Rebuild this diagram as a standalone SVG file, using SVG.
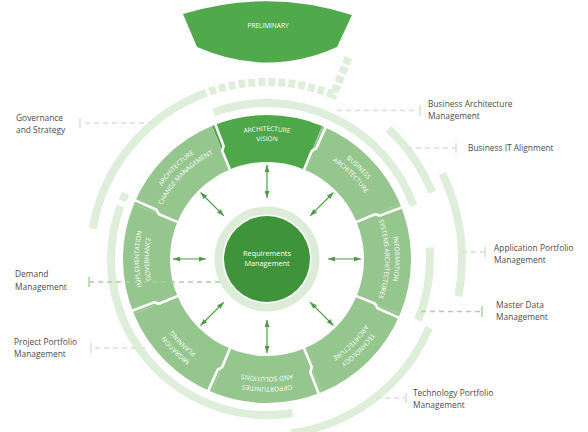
<svg xmlns="http://www.w3.org/2000/svg" width="588" height="432" viewBox="0 0 588 432">
<style>
.band{fill:none;stroke:#deeeda;stroke-width:8}
.sq{fill:none;stroke:#deeeda;stroke-width:8;stroke-dasharray:7 3}
.segL{fill:#95c68e}
.segD{fill:#4ea749}
.st{font-family:"Open Sans","Noto Sans",sans-serif;font-size:6.5px;fill:#fff;text-anchor:middle}
.lbl{font-family:"Open Sans","Noto Sans",sans-serif;font-size:8.4px;fill:#4d4d4d}
.lead{fill:none;stroke:#d3e7cf;stroke-width:1.3;stroke-dasharray:5 4}
.leadG{fill:none;stroke:#a8d2a1;stroke-width:1.3;stroke-dasharray:5 4}
.tick{stroke:#d3e7cf;stroke-width:1.5}
.tickG{stroke:#a8d2a1;stroke-width:1.5}
.sep{fill:none;stroke:#fff;stroke-width:2.6;stroke-linejoin:round}
.arr{stroke:#4c9e46;stroke-width:1.2;marker-start:url(#ah);marker-end:url(#ah)}
</style>
<defs>
<marker id="ah" viewBox="0 0 7 5" refX="7" refY="2.5" markerWidth="7" markerHeight="5" markerUnits="userSpaceOnUse" orient="auto-start-reverse">
<path d="M0,0 L7,2.5 L0,5 z" fill="#4c9e46"/>
</marker>
<path id="p1a" d="M219.05,140.32 A128,128 0 0 1 314.95,140.32"/>
<path id="p1b" d="M222.80,149.59 A118,118 0 0 1 311.20,149.59"/>
<path id="p2a" d="M317.01,141.18 A128,128 0 0 1 384.82,208.99"/>
<path id="p2b" d="M313.11,150.38 A118,118 0 0 1 375.62,212.89"/>
<path id="p3a" d="M385.68,211.05 A128,128 0 0 1 385.68,306.95"/>
<path id="p3b" d="M376.41,214.80 A118,118 0 0 1 376.41,303.20"/>
<path id="p4a" d="M384.82,309.01 A128,128 0 0 1 317.01,376.82"/>
<path id="p4b" d="M375.62,305.11 A118,118 0 0 1 313.11,367.62"/>
<path id="p5a" d="M314.95,377.68 A128,128 0 0 1 219.05,377.68"/>
<path id="p5b" d="M311.20,368.41 A118,118 0 0 1 222.80,368.41"/>
<path id="p6a" d="M216.99,376.82 A128,128 0 0 1 149.18,309.01"/>
<path id="p6b" d="M220.89,367.62 A118,118 0 0 1 158.38,305.11"/>
<path id="p7a" d="M148.32,306.95 A128,128 0 0 1 148.32,211.05"/>
<path id="p7b" d="M157.59,303.20 A118,118 0 0 1 157.59,214.80"/>
<path id="p8a" d="M149.18,208.99 A128,128 0 0 1 216.99,141.18"/>
<path id="p8b" d="M158.38,212.89 A118,118 0 0 1 220.89,150.38"/>
</defs>
<rect width="588" height="432" fill="#fff"/>

<g id="governance-strategy">
<path class="band" d="M92.69,228.26 A177,177 0 0 1 206.46,92.67"/>
<path class="sq" d="M209.37,91.64 A177,177 0 0 1 333.31,94.89 L348.66,56.87"/>
<text class="lbl" x="16" y="120.5">Governance</text>
<text class="lbl" x="16" y="132.5">and Strategy</text>
</g>
<g id="business-architecture-management">
<path class="band" d="M213.64,112.41 A156,156 0 0 1 413.59,205.64"/>
<text class="lbl" x="428" y="106.5">Business Architecture</text>
<text class="lbl" x="428" y="118.5">Management</text>
</g>
<g id="business-it-alignment">
<path class="band" d="M388.40,128.82 A178,178 0 0 1 432.04,192.32"/>
<text class="lbl" x="468" y="151">Business IT Alignment</text>
</g>
<g id="application-portfolio-management">
<path class="band" d="M442.26,173.52 A195,195 0 0 1 458.42,296.21"/>
<text class="lbl" x="494" y="250.5">Application Portfolio</text>
<text class="lbl" x="494" y="262.5">Management</text>
</g>
<g id="master-data-management">
<path class="band" d="M429.60,247.63 A163,163 0 0 1 418.13,320.06"/>
<text class="lbl" x="496" y="308">Master Data</text>
<text class="lbl" x="496" y="320">Management</text>
</g>
<g id="technology-portfolio-management">
<path class="band" d="M429.01,327.77 A176,176 0 0 1 291.49,433.29"/>
<text class="lbl" x="413" y="396">Technology Portfolio</text>
<text class="lbl" x="413" y="408">Management</text>
</g>
<g id="project-portfolio-management">
<path class="band" d="M292.50,413.00 A156,156 0 0 1 120.40,206.00"/>
<path class="band" d="M122.40,200.80 A156,156 0 0 1 125.60,193.30"/>
<text class="lbl" x="14" y="345">Project Portfolio</text>
<text class="lbl" x="14" y="357">Management</text>
</g>
<g id="demand-management">
<text class="lbl" x="15" y="277">Demand</text>
<text class="lbl" x="15" y="289.5">Management</text>
</g>

<g id="preliminary">
<path d="M183,14 Q268,-12 352,15 L337,47 Q268,78 197,47 Z" fill="#50a94b"/>
<text class="st" x="268" y="28">PRELIMINARY</text>
</g>

<g id="architecture-vision">
<path class="segD" d="M211.89,125.96 A144,144 0 0 1 322.11,125.96 L304.12,169.38 A97,97 0 0 0 229.88,169.38 Z"/>
<text class="st"><textPath href="#p1a" startOffset="50%">ARCHITECTURE</textPath></text>
<text class="st"><textPath href="#p1b" startOffset="50%">VISION</textPath></text>
</g>
<g id="business-architecture">
<path class="segL" d="M322.11,125.96 A144,144 0 0 1 400.04,203.89 L356.62,221.88 A97,97 0 0 0 304.12,169.38 Z"/>
<text class="st"><textPath href="#p2a" startOffset="50%">BUSINESS</textPath></text>
<text class="st"><textPath href="#p2b" startOffset="50%">ARCHITECTURE</textPath></text>
</g>
<g id="information-systems-architectures">
<path class="segL" d="M400.04,203.89 A144,144 0 0 1 400.04,314.11 L356.62,296.12 A97,97 0 0 0 356.62,221.88 Z"/>
<text class="st"><textPath href="#p3a" startOffset="50%">INFORMATION</textPath></text>
<text class="st"><textPath href="#p3b" startOffset="50%">SYSTEMS ARCHITECTURES</textPath></text>
</g>
<g id="technology-architecture">
<path class="segL" d="M400.04,314.11 A144,144 0 0 1 322.11,392.04 L304.12,348.62 A97,97 0 0 0 356.62,296.12 Z"/>
<text class="st"><textPath href="#p4a" startOffset="50%">TECHNOLOGY</textPath></text>
<text class="st"><textPath href="#p4b" startOffset="50%">ARCHITECTURE</textPath></text>
</g>
<g id="opportunities-and-solutions">
<path class="segL" d="M322.11,392.04 A144,144 0 0 1 211.89,392.04 L229.88,348.62 A97,97 0 0 0 304.12,348.62 Z"/>
<text class="st"><textPath href="#p5a" startOffset="50%">OPPORTUNITIES</textPath></text>
<text class="st"><textPath href="#p5b" startOffset="50%">AND SOLUTIONS</textPath></text>
</g>
<g id="migration-planning">
<path class="segL" d="M211.89,392.04 A144,144 0 0 1 133.96,314.11 L177.38,296.12 A97,97 0 0 0 229.88,348.62 Z"/>
<text class="st"><textPath href="#p6a" startOffset="50%">MIGRATION</textPath></text>
<text class="st"><textPath href="#p6b" startOffset="50%">PLANNING</textPath></text>
</g>
<g id="implementation-governance">
<path class="segL" d="M133.96,314.11 A144,144 0 0 1 133.96,203.89 L177.38,221.88 A97,97 0 0 0 177.38,296.12 Z"/>
<text class="st"><textPath href="#p7a" startOffset="50%">IMPLEMENTATION</textPath></text>
<text class="st"><textPath href="#p7b" startOffset="50%">GOVERNANCE</textPath></text>
</g>
<g id="architecture-change-management">
<path class="segL" d="M133.96,203.89 A144,144 0 0 1 211.89,125.96 L229.88,169.38 A97,97 0 0 0 177.38,221.88 Z"/>
<text class="st"><textPath href="#p8a" startOffset="50%">ARCHITECTURE</textPath></text>
<text class="st"><textPath href="#p8b" startOffset="50%">CHANGE MANAGEMENT</textPath></text>
</g>

<g id="separators">
<polyline class="sep" points="354.77,295.35 375.09,303.77 377.54,308.22 400.38,318.38"/>
<polyline class="sep" points="303.35,346.77 311.77,367.09 310.36,371.96 319.32,395.30"/>
<polyline class="sep" points="230.65,346.77 222.23,367.09 217.78,369.54 207.62,392.38"/>
<polyline class="sep" points="179.23,295.35 158.91,303.77 154.04,302.36 130.70,311.32"/>
<polyline class="sep" points="179.23,222.65 158.91,214.23 156.46,209.78 133.62,199.62"/>
<polyline class="sep" points="230.65,171.23 222.23,150.91 223.64,146.04 214.68,122.70"/>
<polyline class="sep" points="303.35,171.23 311.77,150.91 316.22,148.46 326.38,125.62"/>
<polyline class="sep" points="354.77,222.65 375.09,214.23 379.96,215.64 403.30,206.68"/>
</g>

<g id="requirements-management">
<circle cx="267" cy="259" r="48.5" fill="none" stroke="#dcecd8" stroke-width="8"/>
<circle cx="267" cy="259" r="43" fill="#3f943b"/>
<text class="st" style="font-size:7.3px" x="267" y="256">Requirements</text>
<text class="st" style="font-size:7.3px" x="267" y="266">Management</text>
</g>

<g id="connectors">
<line class="arr" x1="328" y1="259" x2="361" y2="259"/>
<line class="arr" x1="310.13" y1="302.13" x2="333.47" y2="325.47"/>
<line class="arr" x1="267" y1="320" x2="267" y2="353"/>
<line class="arr" x1="223.87" y1="302.13" x2="200.53" y2="325.47"/>
<line class="arr" x1="206" y1="259" x2="173" y2="259"/>
<line class="arr" x1="223.87" y1="215.87" x2="200.53" y2="192.53"/>
<line class="arr" x1="267" y1="198" x2="267" y2="165"/>
<line class="arr" x1="310.13" y1="215.87" x2="333.47" y2="192.53"/>

<line class="lead" x1="153" y1="123" x2="81" y2="123"/>
<line class="tick" x1="80" y1="118" x2="80" y2="128"/>
<line class="lead" x1="337" y1="110.5" x2="419" y2="110.5"/>
<line class="tick" x1="420" y1="105" x2="420" y2="116"/>
<line class="lead" x1="407" y1="148" x2="455" y2="148"/>
<line class="tick" x1="456" y1="143" x2="456" y2="153"/>
<line class="lead" x1="462" y1="252" x2="484" y2="252"/>
<line class="tick" x1="485" y1="247" x2="485" y2="257"/>
<line class="leadG" x1="421" y1="311.5" x2="481" y2="311.5"/>
<line class="tickG" x1="482" y1="306" x2="482" y2="317"/>
<line class="lead" x1="376" y1="398" x2="405" y2="398"/>
<line class="tick" x1="406" y1="393" x2="406" y2="403"/>
<line class="leadG" x1="220" y1="282" x2="90" y2="282"/>
<line class="tickG" x1="89" y1="277" x2="89" y2="287"/>
<line class="lead" x1="145" y1="348" x2="92" y2="348"/>
<line class="tick" x1="91" y1="343" x2="91" y2="353"/>
</g>
</svg>
